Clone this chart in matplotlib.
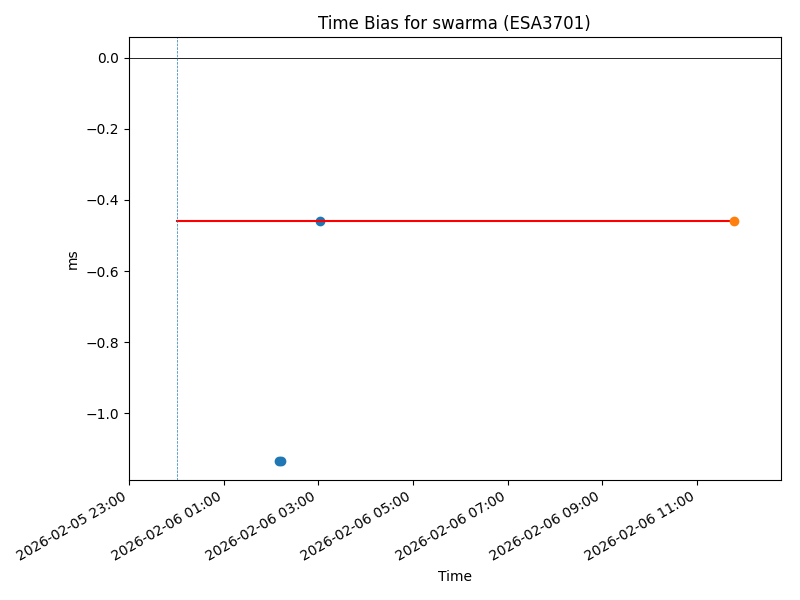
import matplotlib
matplotlib.use("Agg")
import matplotlib.pyplot as plt
import matplotlib.dates as mdates
import numpy as np
import pandas as pd

# Datos
t_cluster = pd.to_datetime(["2026-02-06 02:10", "2026-02-06 02:13"])
y_cluster = [-1.134, -1.134]
t_point = pd.to_datetime(["2026-02-06 03:02"])
y_point = [-0.459]
t_last = pd.to_datetime(["2026-02-06 11:47"])
y_last = [-0.459]
t_fit = pd.to_datetime(["2026-02-06 00:01", "2026-02-06 11:47"])
y_fit = [-0.459, -0.459]
t_start = pd.Timestamp("2026-02-06 00:01")
xlim = pd.to_datetime(["2026-02-05 23:00", "2026-02-06 12:46"])

fig, ax = plt.subplots(figsize=(8, 6), dpi=100)
ax.scatter(t_cluster, y_cluster, color="C0")
ax.scatter(t_point, y_point, color="C0")
ax.plot(t_fit, y_fit, color="red")
ax.scatter(t_last, y_last, color="C1", zorder=3)
ax.axhline(0, color="black", linewidth=0.6)
ax.axvline(t_start, color="C0", linestyle="--", linewidth=0.5)

ax.set_xlim(xlim[0], xlim[1])
ax.set_ylim(-1.188, 0.058)
ax.xaxis.set_major_locator(mdates.HourLocator(byhour=range(1, 24, 2)))
ax.xaxis.set_major_formatter(mdates.DateFormatter("%Y-%m-%d %H:%M"))
ax.set_title("Time Bias for swarma (ESA3701)")
ax.set_xlabel("Time")
ax.set_ylabel("ms")
fig.autofmt_xdate()
fig.subplots_adjust(left=0.161, right=0.976, top=0.938, bottom=0.2)
fig.savefig("out.png")
